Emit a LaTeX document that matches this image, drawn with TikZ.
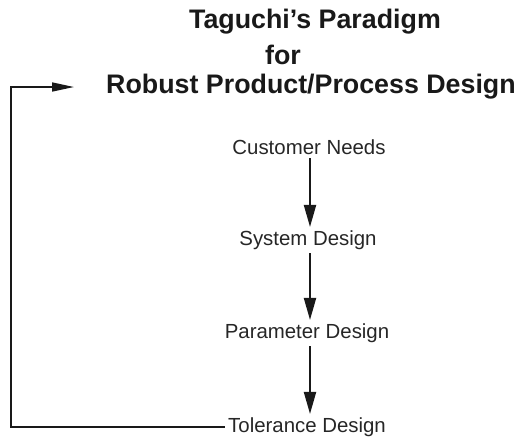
\documentclass[tikz,border=0pt]{standalone}
\usepackage{fontspec}
\setmainfont{Liberation Sans}
\usetikzlibrary{positioning,arrows.meta}
\tikzset{
  ttl/.style={font=\fontsize{26.8}{30}\selectfont\bfseries,text=black!90,inner sep=0pt},
  stage/.style={font=\fontsize{20.4}{24}\selectfont,text=black!85},
  flow/.style={-{Triangle[length=22pt,width=12pt]},line width=2pt,black!90},
  fback/.style={-{Triangle[length=22pt,width=9pt]},line width=1.6pt,black!90},
}
\begin{document}
\begin{tikzpicture}[x=1pt,y=-1pt]
  \useasboundingbox (0,0) rectangle (521,440);
  % title
  \node[ttl] (t1) at (315,22) {Taguchi's Paradigm};
  \node[ttl] (t2) at (283,55) {for};
  \node[ttl] (t3) at (311,87) {Robust Product/Process Design};
  % stages
  \node[stage] (cust) at (309,147) {Customer Needs};
  \node[stage] (sys)  at (308,240) {System Design};
  \node[stage] (par)  at (307,333) {Parameter Design};
  \node[stage] (tol)  at (307,427) {Tolerance Design};
  \draw[flow] (cust.south -| 310,0) -- (sys.north -| 310,0);
  \draw[flow] (sys.south -| 310,0) -- (par.north -| 310,0);
  \draw[flow] (par.south -| 310,0) -- (tol.north -| 310,0);
  % feedback loop
  \coordinate (back) at (11,87);
  \coordinate (tip) at (74,87);
  \draw[fback] (tol.west) -| (back) -- (tip);
\end{tikzpicture}
\end{document}
